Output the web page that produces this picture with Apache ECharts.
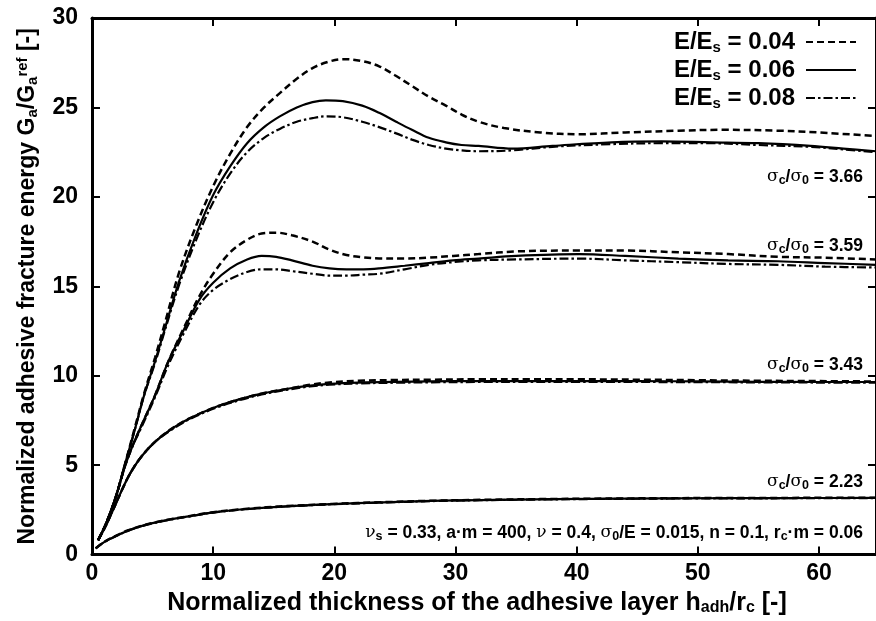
<!DOCTYPE html>
<html><head><meta charset="utf-8">
<script src="https://cdn.jsdelivr.net/npm/echarts@6/dist/echarts.min.js"></script>
<style>html,body{margin:0;padding:0;background:#fff}#c{width:876px;height:621px}</style>
</head><body><div id="c"></div>
<script>
// ---- data ----
const legendNames = ['E/Es = 0.04', 'E/Es = 0.06', 'E/Es = 0.08'];
const ratioLabels = ['3.66', '3.59', '3.43', '2.23'];
const xTickValues = [0, 10, 20, 30, 40, 50, 60];
const yTickValues = [0, 5, 10, 15, 20, 25, 30];

// sigma_c/sigma_0 = 3.66
const x366_004 = [0.5, 1.2, 2.0, 2.7, 3.5, 4.3, 5.2, 6.0, 7.2, 8.6, 10.0, 11.4, 12.8, 14.2, 15.5, 16.9, 18.2, 19.5, 20.7, 22.2, 23.7, 25.0, 26.4, 27.8, 29.2, 30.5, 31.9, 34.0, 37.0, 40.2, 44.0, 48.4, 52.0, 56.6, 60.0, 64.7];
const y366_004 = [0.8, 1.8, 3.3, 5.0, 7.0, 9.0, 11.0, 12.9, 15.8, 18.4, 20.6, 22.4, 23.9, 25.0, 25.8, 26.6, 27.2, 27.55, 27.7, 27.6, 27.3, 26.8, 26.2, 25.6, 25.1, 24.6, 24.2, 23.85, 23.6, 23.5, 23.6, 23.7, 23.75, 23.7, 23.6, 23.4];
const x366_006 = [0.5, 1.2, 2.0, 2.7, 3.5, 4.3, 5.2, 6.0, 7.2, 8.6, 10.0, 11.4, 12.8, 14.2, 15.5, 16.9, 18.2, 19.3, 20.7, 22.3, 23.7, 25.1, 26.4, 27.8, 29.2, 30.5, 31.9, 34.7, 38.0, 42.9, 47.0, 51.1, 55.0, 59.3, 62.0, 64.7];
const y366_006 = [0.8, 1.8, 3.3, 5.0, 6.9, 8.9, 10.8, 12.6, 15.3, 17.9, 20.1, 21.7, 23.0, 23.9, 24.5, 25.0, 25.3, 25.4, 25.35, 25.1, 24.7, 24.2, 23.75, 23.3, 23.05, 22.9, 22.85, 22.7, 22.85, 23.05, 23.1, 23.05, 23.0, 22.85, 22.7, 22.55];
const x366_008 = x366_006;
const y366_008 = [0.8, 1.8, 3.3, 5.0, 6.9, 8.9, 10.7, 12.5, 15.1, 17.6, 19.7, 21.3, 22.5, 23.3, 23.8, 24.2, 24.4, 24.5, 24.45, 24.2, 23.9, 23.55, 23.2, 22.9, 22.7, 22.6, 22.55, 22.6, 22.8, 22.95, 23.0, 23.0, 22.9, 22.8, 22.65, 22.5];

// sigma_c/sigma_0 = 3.59
const x359 = [0.5, 1.2, 2.0, 2.7, 3.3, 4.0, 5.2, 6.3, 7.6, 8.9, 10.0, 11.4, 12.8, 14.0, 15.2, 16.5, 18.2, 19.6, 21.0, 22.4, 23.7, 25.8, 27.8, 29.8, 31.9, 35.0, 40.2, 44.0, 48.4, 52.5, 56.6, 60.5, 64.7];
const y359_004 = [0.8, 1.8, 3.3, 4.9, 6.0, 7.1, 8.9, 10.8, 12.7, 14.5, 15.7, 16.9, 17.6, 17.95, 18.0, 17.85, 17.5, 17.05, 16.75, 16.62, 16.56, 16.55, 16.6, 16.7, 16.8, 16.95, 17.0, 17.0, 16.9, 16.8, 16.65, 16.6, 16.5];
const y359_006 = [0.8, 1.8, 3.3, 4.9, 6.0, 7.1, 8.9, 10.8, 12.6, 14.3, 15.2, 16.0, 16.5, 16.7, 16.65, 16.45, 16.15, 16.0, 15.95, 15.95, 16.0, 16.15, 16.3, 16.45, 16.55, 16.7, 16.8, 16.7, 16.55, 16.45, 16.4, 16.3, 16.2];
const y359_008 = [0.8, 1.8, 3.3, 4.9, 6.0, 7.0, 8.8, 10.6, 12.4, 14.0, 14.8, 15.4, 15.8, 15.95, 15.95, 15.85, 15.7, 15.6, 15.6, 15.65, 15.7, 15.95, 16.2, 16.35, 16.45, 16.5, 16.55, 16.45, 16.35, 16.25, 16.2, 16.1, 16.05];

// sigma_c/sigma_0 = 3.43
const x343 = [0.5, 1.2, 2.0, 2.6, 3.2, 4.1, 5.2, 6.5, 8.0, 10.0, 12.0, 14.0, 16.4, 18.0, 19.6, 22.0, 25.0, 28.0, 32.0, 36.0, 40.0, 45.0, 50.0, 55.0, 60.0, 64.7];
const y343_004 = [0.8, 1.7, 2.9, 3.8, 4.6, 5.5, 6.3, 7.0, 7.6, 8.2, 8.65, 9.0, 9.3, 9.5, 9.62, 9.72, 9.76, 9.78, 9.8, 9.8, 9.8, 9.78, 9.75, 9.72, 9.7, 9.68];
const y343_006 = [0.8, 1.7, 2.9, 3.8, 4.6, 5.5, 6.3, 7.0, 7.6, 8.2, 8.65, 9.0, 9.3, 9.45, 9.55, 9.62, 9.66, 9.68, 9.7, 9.7, 9.7, 9.7, 9.68, 9.66, 9.65, 9.65];
const y343_008 = [0.8, 1.7, 2.9, 3.8, 4.6, 5.5, 6.3, 6.95, 7.55, 8.15, 8.6, 8.95, 9.25, 9.4, 9.5, 9.57, 9.61, 9.63, 9.65, 9.65, 9.65, 9.65, 9.64, 9.63, 9.62, 9.62];

// sigma_c/sigma_0 = 2.23
const x223 = [0.3, 1.0, 2.0, 3.0, 4.0, 5.0, 6.5, 8.0, 10.0, 12.8, 16.0, 19.8, 24.0, 28.0, 32.0, 38.0, 44.0, 50.0, 57.0, 64.7];
const y223_004 = [0.35, 0.71, 1.06, 1.36, 1.59, 1.77, 1.98, 2.15, 2.37, 2.56, 2.71, 2.83, 2.93, 3.01, 3.06, 3.11, 3.14, 3.16, 3.17, 3.18];
const y223_006 = [0.35, 0.7, 1.05, 1.35, 1.58, 1.76, 1.97, 2.14, 2.36, 2.55, 2.7, 2.82, 2.92, 3.0, 3.05, 3.1, 3.13, 3.15, 3.16, 3.17];
const y223_008 = [0.35, 0.69, 1.04, 1.34, 1.57, 1.75, 1.96, 2.13, 2.35, 2.54, 2.69, 2.81, 2.91, 2.99, 3.04, 3.09, 3.12, 3.14, 3.15, 3.16];

// ---- styling ----
const FONT = "'Liberation Sans', Arial, sans-serif";
const lineTypes = [
  { type: [7, 4], width: 2.5 },
  { type: 'solid', width: 2.2 },
  { type: [9, 3, 2.5, 3], width: 2.2 }
];

function pairs(xs, ys) { return xs.map((x, i) => [x, ys[i]]); }

const groups = [
  [[x366_004, y366_004], [x366_006, y366_006], [x366_008, y366_008]],
  [[x359, y359_004], [x359, y359_006], [x359, y359_008]],
  [[x343, y343_004], [x343, y343_006], [x343, y343_008]],
  [[x223, y223_004], [x223, y223_006], [x223, y223_008]]
];

const series = [];
groups.forEach(g => {
  g.forEach((xy, k) => {
    series.push({
      type: 'line',
      name: legendNames[k],
      data: pairs(xy[0], xy[1]),
      smooth: 0.35,
      symbol: 'none',
      lineStyle: { color: '#000', width: lineTypes[k].width, type: lineTypes[k].type },
      itemStyle: { color: '#000' },
      z: 3 - k,
      silent: true,
      animation: false
    });
  });
});

const subRich = {
  m: { fontFamily: FONT, fontWeight: 'bold', fontSize: 24, color: '#000', lineHeight: 26, verticalAlign: 'middle' },
  s: { fontFamily: FONT, fontWeight: 'bold', fontSize: 15, color: '#000', lineHeight: 14, verticalAlign: 'bottom' }
};

const annRich = {
  g: { fontFamily: 'DejaVu Serif, serif', fontSize: 17, color: '#000', lineHeight: 21, verticalAlign: 'middle' },
  b: { fontFamily: FONT, fontWeight: 'bold', fontSize: 17.5, color: '#000', lineHeight: 21, verticalAlign: 'middle' },
  s: { fontFamily: FONT, fontWeight: 'bold', fontSize: 12.5, color: '#000', lineHeight: 11, verticalAlign: 'bottom' }
};

const annY = [177, 246, 365, 482];
const graphics = ratioLabels.map((r, i) => ({
  type: 'text',
  x: 863, y: annY[i],
  style: {
    text: '{g|σ}{s|c}{b|/}{g|σ}{s|0}{b| = ' + r + '}',
    rich: annRich, align: 'right', verticalAlign: 'middle'
  },
  silent: true
}));
graphics.push({
  type: 'text',
  x: 863, y: 533,
  style: {
    text: '{g|ν}{s|s}{b| = 0.33, a·m = 400, }{g|ν}{b| = 0.4, }{g|σ}{s|0}{b|/E = 0.015, n = 0.1, r}{s|c}{b|·m = 0.06}',
    rich: annRich, align: 'right', verticalAlign: 'middle'
  },
  silent: true
});

const axisCommon = {
  type: 'value',
  splitLine: { show: false },
  axisLine: { show: true, onZero: false, lineStyle: { color: '#000', width: 3 } },
  axisTick: { show: true, inside: true, length: 8, lineStyle: { color: '#000', width: 2 } },
  minorTick: { show: false }
};

const option = {
  backgroundColor: '#fff',
  animation: false,
  grid: { left: 92, right: -2, top: 18, bottom: 63, containLabel: false },
  legend: {
    data: legendNames,
    orient: 'vertical',
    align: 'right',
    right: 14, top: 25,
    itemWidth: 50, itemHeight: 14, itemGap: 3,
    selectedMode: false,
    itemStyle: { opacity: 0 },
    formatter: name => '{m|E/E}{s|s}{m|' + name.slice(4) + '}',
    textStyle: { rich: subRich, padding: [0, 6, 0, 0] }
  },
  xAxis: [
    Object.assign({}, axisCommon, {
      position: 'bottom', min: 0, max: 64.7, interval: 10,
      axisLabel: { show: true, showMaxLabel: false, margin: 8, color: '#000', fontFamily: FONT, fontWeight: 'bold', fontSize: 23,
        formatter: v => xTickValues.indexOf(v) >= 0 ? String(v) : '' },
      name: '{m|Normalized thickness of the adhesive layer h}{s|adh}{m|/r}{s|c}{m| [-]}',
      nameLocation: 'middle', nameGap: 29,
      nameTextStyle: { padding: [0, 14, 0, 0], rich: {
        m: { fontFamily: FONT, fontWeight: 'bold', fontSize: 25, color: '#000', lineHeight: 26, verticalAlign: 'middle' },
        s: { fontFamily: FONT, fontWeight: 'bold', fontSize: 16, color: '#000', lineHeight: 15, verticalAlign: 'bottom' }
      } }
    }),
    Object.assign({}, axisCommon, {
      position: 'top', min: 0, max: 64.7, interval: 10,
      axisLabel: { show: false }
    })
  ],
  yAxis: [
    Object.assign({}, axisCommon, {
      position: 'left', min: 0, max: 30, interval: 5,
      axisLabel: { show: true, margin: 14, color: '#000', fontFamily: FONT, fontWeight: 'bold', fontSize: 23,
        formatter: v => yTickValues.indexOf(v) >= 0 ? String(v) : '' },
      name: '{m|Normalized adhesive fracture energy G}{s|a}{m|/G}{s|a}{p|ref}{m| [-]}',
      nameLocation: 'middle', nameGap: 52, nameRotate: 90,
      nameTextStyle: { rich: {
        m: { fontFamily: FONT, fontWeight: 'bold', fontSize: 23, color: '#000', lineHeight: 25, verticalAlign: 'middle' },
        s: { fontFamily: FONT, fontWeight: 'bold', fontSize: 15, color: '#000', lineHeight: 13, verticalAlign: 'bottom' },
        p: { fontFamily: FONT, fontWeight: 'bold', fontSize: 15, color: '#000', lineHeight: 13, verticalAlign: 'top' }
      } }
    }),
    Object.assign({}, axisCommon, {
      position: 'right', min: 0, max: 30, interval: 5,
      axisLabel: { show: false }
    })
  ],
  graphic: graphics,
  series: series
};

const chart = echarts.init(document.getElementById('c'), null, { renderer: 'canvas' });
chart.setOption(option);
</script>
</body></html>
